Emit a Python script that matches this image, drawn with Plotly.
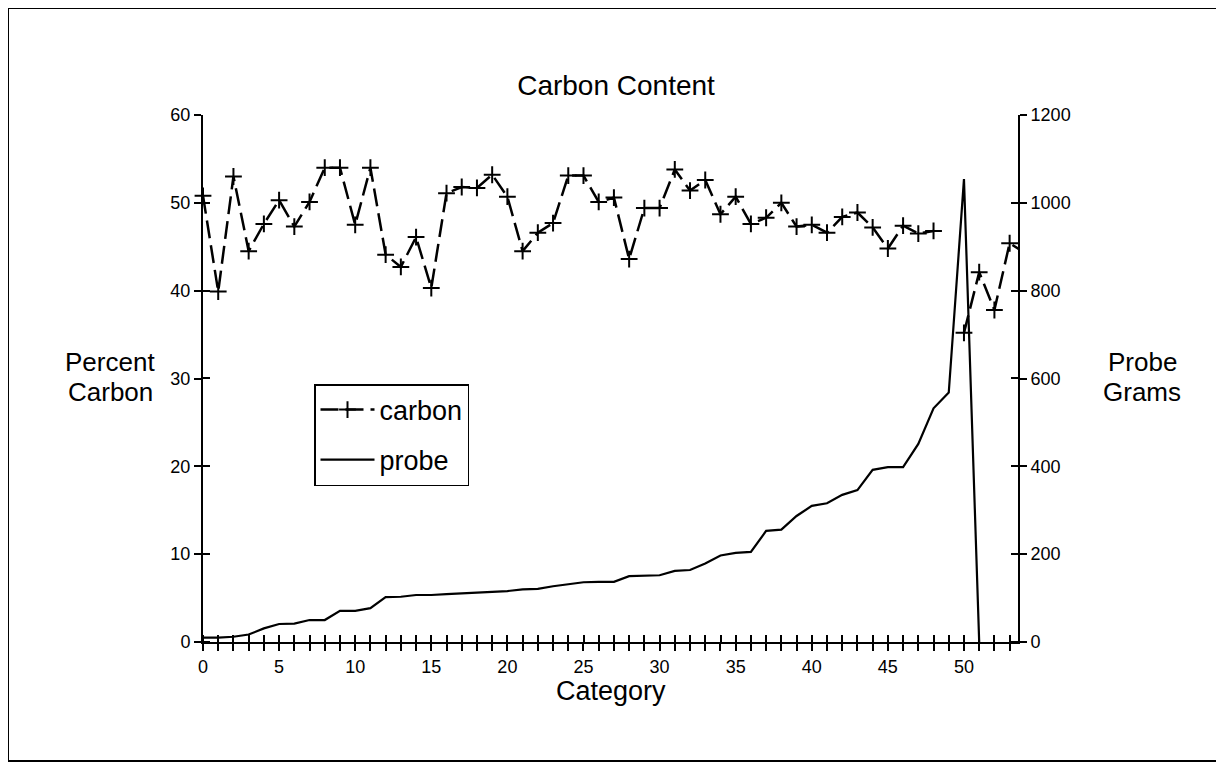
import plotly.graph_objects as go

# ---- data ----
category = list(range(55))
carbon = [50.8, 39.9, 53.0, 44.5, 47.6, 50.3, 47.3, 50.1, 54.0, 54.0,
          47.5, 54.0, 44.1, 42.7, 46.1, 40.3, 51.1, 51.8, 51.7, 53.2,
          50.7, 44.5, 46.6, 47.7, 53.1, 53.1, 50.1, 50.6, 43.6, 49.4,
          49.4, 53.8, 51.4, 52.6, 48.7, 50.7, 47.6, 48.3, 50.0, 47.3,
          47.5, 46.6, 48.4, 48.9, 47.2, 44.8, 47.4, 46.5, 46.8, None,
          35.2, 42.1, 37.8, 45.4, 44.3]
probe = [10, 10, 12, 17, 31, 41, 42, 50, 50, 71,
         71, 77, 102, 103, 107, 107, 109, 111, 113, 115,
         116, 120, 121, 127, 131, 136, 137, 137, 150, 151,
         152, 162, 164, 179, 197, 203, 205, 253, 256, 287,
         310, 316, 335, 346, 392, 398, 398, 451, 532, 568,
         1054, 0, None, None, None]
x_tick_vals = list(range(54))
x_tick_text = [str(v) if v % 5 == 0 else "" for v in x_tick_vals]
left_ticks = [0, 10, 20, 30, 40, 50, 60]
right_ticks = [0, 200, 400, 600, 800, 1000, 1200]

FONT = "Liberation Sans, Arial, Helvetica, sans-serif"
OFF = 8                      # default page margin of the html body
W, H = 1224 - OFF, 769 - OFF
L, R, T, B = 203, 1018, 115, 642   # plot area in page pixels
pw, ph = R - L, B - T

def px(xp):
    return (xp - L) / pw

def py(yp):
    return (B - yp) / ph

fig = go.Figure()
fig.add_trace(go.Scatter(
    x=category, y=carbon, name="carbon", xaxis="x", yaxis="y",
    mode="lines+markers", connectgaps=False, cliponaxis=False,
    line=dict(color="black", width=2.5, dash="18px,7px"),
    marker=dict(symbol="cross-thin", size=12, line=dict(color="black", width=2)),
    legendgroup="a"))
fig.add_trace(go.Scatter(
    x=category, y=probe, name="probe", xaxis="x", yaxis="y2",
    mode="lines", connectgaps=False,
    line=dict(color="black", width=2.2),
    legendgroup="b"))

ax = dict(color="black", tickfont=dict(family=FONT, size=18, color="black"),
          showgrid=False, zeroline=False, tickwidth=2, ticklen=7, tickcolor="black",
          ticks="outside", showline=True, linewidth=2, linecolor="black", fixedrange=True)

label_font = dict(family=FONT, size=26, color="black")

fig.update_layout(
    width=W, height=H,
    margin=dict(l=L - OFF, r=W - (R - OFF), t=T - OFF, b=H - (B - OFF), pad=0),
    paper_bgcolor="white", plot_bgcolor="white",
    font=dict(family=FONT, color="black"),
    title=dict(text="Carbon Content", x=0.5, xanchor="center",
               y=1 - (85 - OFF) / H, yanchor="middle",
               font=dict(family=FONT, size=28, color="black")),
    xaxis=dict(range=[0, 53.55], tickmode="array", tickvals=x_tick_vals, ticktext=x_tick_text,
               minor=dict(ticks="inside", tick0=0.003, dtick=1, ticklen=7, tickwidth=2,
                          tickcolor="black", showgrid=False),
               anchor="y", **ax),
    yaxis=dict(range=[0, 60], tickmode="array", tickvals=left_ticks,
               minor=dict(ticks="inside", tick0=0.01, dtick=10, ticklen=7, tickwidth=2,
                          tickcolor="black", showgrid=False),
               anchor="x", **ax),
    yaxis2=dict(range=[0, 1200], tickmode="array", tickvals=right_ticks,
                minor=dict(ticks="inside", tick0=0.2, dtick=200, ticklen=7, tickwidth=2,
                           tickcolor="black", showgrid=False),
                overlaying="y", side="right", anchor="x", **ax),
    showlegend=True,
    legend=dict(x=px(314), y=py(384), xanchor="left", yanchor="top",
                bgcolor="white", bordercolor="black", borderwidth=1.5,
                font=dict(family=FONT, size=27, color="black"),
                traceorder="grouped", tracegroupgap=12, itemwidth=54),
    annotations=[
        dict(text="Percent", x=px(110), y=py(362), xref="paper", yref="paper",
             xanchor="center", yanchor="middle", showarrow=False, font=label_font),
        dict(text="Carbon", x=px(110), y=py(392), xref="paper", yref="paper",
             xanchor="center", yanchor="middle", showarrow=False, font=label_font),
        dict(text="Probe", x=px(1142), y=py(362), xref="paper", yref="paper",
             xanchor="center", yanchor="middle", showarrow=False, font=label_font),
        dict(text="Grams", x=px(1142), y=py(392), xref="paper", yref="paper",
             xanchor="center", yanchor="middle", showarrow=False, font=label_font),
        dict(text="Category", x=px(611), y=py(691), xref="paper", yref="paper",
             xanchor="center", yanchor="middle", showarrow=False,
             font=dict(family=FONT, size=27, color="black")),
    ],
    shapes=[dict(type="rect", xref="paper", yref="paper",
                 x0=px(8), x1=px(1219), y0=py(761), y1=py(8),
                 line=dict(color="black", width=2), layer="below")],
)

fig.write_html("out.html")
